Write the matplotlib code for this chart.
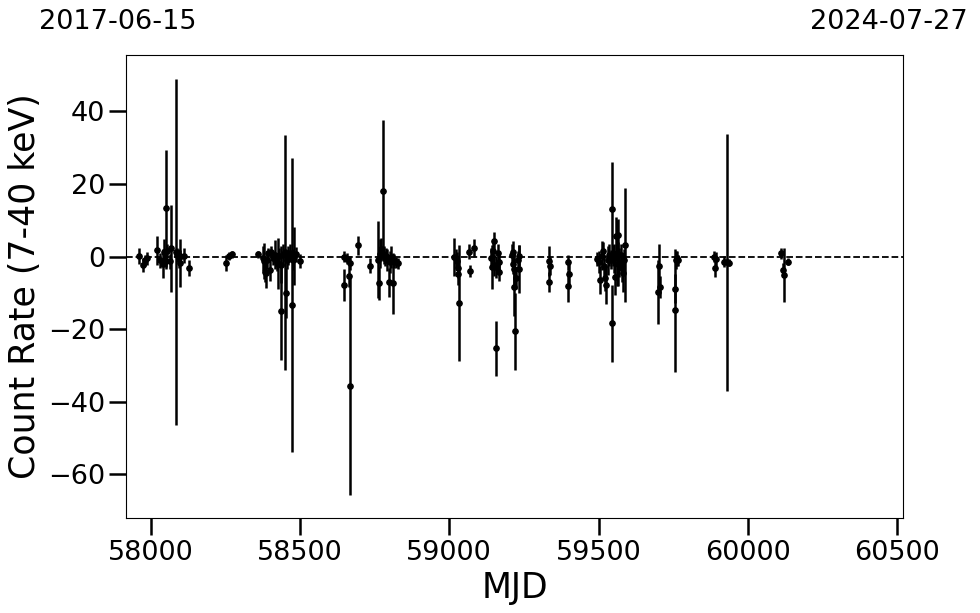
import matplotlib
matplotlib.use("Agg")
import matplotlib.pyplot as plt

# light curve (MJD, rate, 1-sigma error)
mjd = [
    57961, 57975, 57980, 57987,
    58023, 58031, 58042, 58046, 58050, 58053, 58056, 58065, 58067, 58084,
    58089, 58094, 58098, 58100, 58113, 58128,
    58254, 58263, 58271,
    58358, 58376, 58379, 58383, 58388, 58391, 58394, 58399, 58403, 58411,
    58418, 58422, 58427, 58431, 58435, 58438, 58444, 58450, 58452, 58457,
    58461, 58466, 58472, 58476, 58481, 58486, 58500,
    58647, 58649, 58657, 58664, 58666, 58667, 58694,
    58736, 58762, 58764, 58768, 58772, 58777, 58780, 58784, 58788, 58792,
    58797, 58802, 58806, 58810, 58816, 58822, 58828,
    59017, 59022, 59025, 59028, 59030, 59031,
    59065, 59071, 59082,
    59140, 59142, 59146, 59149, 59151, 59155, 59158, 59162, 59165, 59168,
    59211, 59213, 59214, 59216, 59218, 59220, 59224, 59230, 59233, 59235,
    59333, 59335, 59339,
    59397, 59400, 59398,
    59494, 59500, 59506, 59510, 59514, 59518, 59520, 59525, 59530, 59535,
    59540, 59544, 59546, 59550, 59553, 59556, 59558, 59561, 59564, 59566,
    59570, 59575, 59578, 59581, 59585, 59590,
    59698, 59701, 59705,
    59756, 59757, 59759, 59762, 59765,
    59888, 59889, 59893, 59921, 59929, 59938,
    60111, 60119, 60120, 60135,
]
rate = [
    0.2, -2.3, -1.0, -0.5,
    1.7, -1.0, -2.0, 1.4, 13.3, -1.3, 1.5, -1.3, 2.3, 1.2,
    0.5, -0.5, 0.3, -1.8, 0.3, -3.1,
    -1.7, 0.2, 0.6,
    0.6, -0.5, -1.3, -4.1, -4.6, -1.0, 0.9, -3.6, 1.4, -0.4,
    0.5, -1.5, -2.0, 0.3, -2.2, -15.1, 0.5, 1.2, -10.0, -1.0,
    0.3, 1.0, -13.2, -0.8, 0.3, 0.6, -1.2,
    0.0, -7.7, -0.6, -5.4, -1.8, -35.6, 3.1,
    -2.5, -0.8, -7.4, 0.8, 2.0, 18.2, 0.5, -0.5, 0.3, -1.0,
    -7.0, -1.5, 0.0, -7.4, -1.2, -1.5, -1.8,
    0.0, -0.5, -1.2, -3.0, -4.8, -12.8,
    1.4, -3.9, 2.3,
    -0.5, -2.8, 1.5, -2.3, 4.2, -25.3, -2.8, 0.9, -1.5, -4.2,
    0.5, 1.4, -1.9, -3.5, -8.3, -20.6, -5.8, -1.0, 0.3, -3.4,
    -6.9, -1.2, -2.6,
    -1.6, -4.8, -8.1,
    -0.6, -1.5, -6.4, 0.3, 1.6, -2.5, -6.0, -7.9, -1.0, 0.5,
    -0.8, 13.0, -18.4, 0.3, -0.5, -5.6, 5.8, 1.0, -2.0, 6.0,
    -1.5, 0.5, -3.0, -4.4, -0.8, 3.2,
    -9.7, -2.6, -8.3,
    -8.8, -14.8, -0.9, -0.5, -1.0,
    0.0, -3.1, -0.6, -1.4, -1.6, -1.7,
    0.9, -3.7, -5.1, -1.4,
]
rate_err = [
    2.2, 2.0, 1.5, 1.7,
    4.1, 2.0, 4.0, 3.5, 16.2, 2.0, 2.0, 2.0, 12.0, 47.7,
    2.0, 2.5, 1.5, 6.7, 2.0, 2.2,
    2.2, 1.0, 1.0,
    1.0, 3.5, 5.0, 3.0, 4.0, 2.5, 1.5, 3.0, 1.5, 2.0,
    4.0, 2.5, 7.0, 2.0, 5.0, 13.4, 3.0, 32.4, 7.0, 2.5,
    2.5, 2.5, 40.5, 3.0, 8.0, 2.0, 2.0,
    1.5, 4.4, 1.5, 3.0, 2.0, 30.0, 2.6,
    2.0, 10.5, 4.6, 4.0, 3.0, 19.5, 2.5, 2.0, 2.0, 3.0,
    4.0, 3.0, 3.0, 8.5, 2.0, 1.5, 1.5,
    5.2, 2.5, 2.5, 3.0, 3.0, 16.0,
    2.0, 1.7, 2.5,
    3.0, 6.0, 3.0, 3.0, 2.6, 7.6, 3.0, 2.5, 3.0, 2.5,
    3.0, 3.0, 3.0, 5.0, 8.0, 10.5, 3.0, 2.5, 3.0, 6.5,
    2.8, 4.0, 2.5,
    2.0, 3.0, 4.4,
    2.0, 3.0, 3.8, 4.0, 2.5, 3.0, 3.5, 5.2, 4.0, 3.0,
    2.5, 13.0, 10.5, 3.0, 4.0, 5.0, 5.0, 9.0, 6.0, 4.5,
    4.0, 3.0, 4.0, 5.3, 3.0, 15.8,
    8.9, 6.0, 3.0,
    4.0, 17.0, 2.5, 2.0, 1.5,
    1.5, 2.5, 2.0, 1.5, 35.5, 1.0,
    1.5, 2.0, 7.4, 1.0,
]

mjd_start, mjd_end = 57919, 60518
date_start, date_end = "2017-06-15", "2024-07-27"

fig = plt.figure(figsize=(9.8, 6.13), dpi=100)
ax = fig.add_axes([0.129, 0.155, 0.792, 0.755])

ax.errorbar(mjd, rate, yerr=rate_err, fmt="o", color="black",
            markersize=3.8, elinewidth=1.8, capsize=0)
ax.axhline(0, color="black", linestyle="--", linewidth=1.3)

ax.set_xlim(mjd_start, mjd_end)
ax.set_ylim(-72, 55.5)
ax.set_yticks([40, 20, 0, -20, -40, -60])
ax.set_xticks([58000, 58500, 59000, 59500, 60000, 60500])
ax.tick_params(labelsize=19.5, length=12, width=1.8)
ax.set_xlabel("MJD", fontsize=25)
ax.set_ylabel("Count Rate (7-40 keV)", fontsize=25)

fig.text(0.120, 0.964, date_start, fontsize=19.5, ha="center", va="center")
fig.text(0.907, 0.964, date_end, fontsize=19.5, ha="center", va="center")

fig.savefig("out.png", dpi=100)
